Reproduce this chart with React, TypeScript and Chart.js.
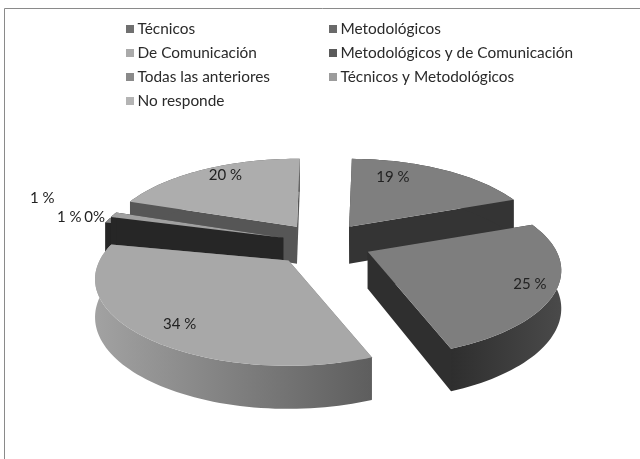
import React, { useEffect, useRef } from "react";
import { Chart, registerables } from "chart.js";

Chart.register(...registerables);

const categories = [
  "Técnicos",
  "Metodológicos",
  "De Comunicación",
  "Metodológicos y de Comunicación",
  "Todas las anteriores",
  "Técnicos y Metodológicos",
  "No responde",
];
const shares = [19, 25, 34, 1, 1, 0, 20];
const shareLabels = ["19 %", "25 %", "34 %", "1 %", "1 %", "0%", "20 %"];

const topColors = ["#7f7f7f", "#7e7e7e", "#a8a8a8", "#8a8a8a", "#a0a0a0", "#b0b0b0", "#adadad"];
const sideColors = ["#343434", "#2f2f2f", "#6e6e6e", "#262626", "#262626", "#262626", "#565656"];
const rimFrom = ["#343434", "#2e2e2e", "#a2a2a2", "#262626", "#262626", "#262626", "#565656"];
const rimTo = ["#343434", "#4a4a4a", "#5e5e5e", "#262626", "#262626", "#262626", "#565656"];
const swatchColors = ["#707070", "#6a6a6a", "#aaaaaa", "#5a5a5a", "#8a8a8a", "#9c9c9c", "#b4b4b4"];
const explosion = [0.24, 0.26, 0.28, 0.22, 0.22, 0.22, 0.24];
const paintOrder = [6, 0, 3, 4, 5, 1, 2];

// Ground plane of the pie as seen in perspective.
const view = { cx: 323, cy: 243, rx: 189, ry: 82.6, tilt: 0.215, depth: 37 };

function project(sliceMid: number, blast: number, angle: number, radius: number) {
  const u = Math.sin(angle) * radius;
  const v = -Math.cos(angle) * radius;
  const s = 1 / (1 - view.tilt * v);
  const ox = view.cx + view.rx * blast * Math.sin(sliceMid);
  const oy = view.cy - view.ry * blast * Math.cos(sliceMid);
  return { x: ox + view.rx * u * s, y: oy + view.ry * v * s, s };
}

const pie3d = {
  id: "pie3d",
  beforeDatasetDraw(chart: any) {
    const ctx: CanvasRenderingContext2D = chart.ctx;
    const arcs = chart.getDatasetMeta(0).data;

    ctx.save();
    for (const i of paintOrder) {
      const arc = arcs[i];
      const a0 = arc.startAngle + Math.PI / 2;
      const a1 = arc.endAngle + Math.PI / 2;
      const mid = (a0 + a1) / 2;
      if (a1 - a0 < 1e-4) continue;
      const blast = explosion[i];
      const rim: { x: number; y: number; s: number }[] = [];
      const steps = Math.max(4, Math.ceil((a1 - a0) / 0.03));
      for (let k = 0; k <= steps; k++) {
        rim.push(project(mid, blast, a0 + ((a1 - a0) * k) / steps, 1));
      }
      const apex = project(mid, blast, 0, 0);
      const drop = (p: { s: number }) => view.depth * (1 + (p.s - 1) * 0.6);

      const wall = (pts: { x: number; y: number; s: number }[], fill: string | CanvasGradient) => {
        ctx.beginPath();
        pts.forEach((p, n) => (n ? ctx.lineTo(p.x, p.y) : ctx.moveTo(p.x, p.y)));
        for (let n = pts.length - 1; n >= 0; n--) ctx.lineTo(pts[n].x, pts[n].y + drop(pts[n]));
        ctx.closePath();
        ctx.fillStyle = fill;
        ctx.fill();
      };

      wall([apex, rim[0]], sideColors[i]);
      wall([apex, rim[rim.length - 1]], sideColors[i]);

      // The outer wall picks up light along its length.
      const xs = rim.map((p) => p.x);
      const shade = ctx.createLinearGradient(Math.min(...xs), 0, Math.max(...xs), 0);
      const forward = rim[0].x > rim[rim.length - 1].x;
      shade.addColorStop(0, forward ? rimFrom[i] : rimTo[i]);
      shade.addColorStop(1, forward ? rimTo[i] : rimFrom[i]);
      wall(rim, i === 1 ? shade : i === 2 ? shade : sideColors[i]);

      ctx.beginPath();
      ctx.moveTo(apex.x, apex.y);
      rim.forEach((p) => ctx.lineTo(p.x, p.y));
      ctx.closePath();
      ctx.fillStyle = topColors[i];
      ctx.fill();
    }
    ctx.restore();
    return false;
  },
  afterDatasetsDraw(chart: any) {
    const ctx: CanvasRenderingContext2D = chart.ctx;
    const arcs = chart.getDatasetMeta(0).data;
    ctx.save();
    ctx.fillStyle = "#222222";
    ctx.font = "15px Lato";
    ctx.textAlign = "center";
    ctx.textBaseline = "middle";
    const reach = [0.78, 0.83, 0.6, 1.32, 1.16, 1.0, 0.82];
    const nudge = [
      [-31, -3],
      [8, 2],
      [-27, 22],
      [-13, -17],
      [-19, 6],
      [-22, 5],
      [6, -3],
    ];
    arcs.forEach((arc: any, i: number) => {
      const a0 = arc.startAngle + Math.PI / 2;
      const a1 = arc.endAngle + Math.PI / 2;
      const mid = (a0 + a1) / 2;
      const p = project(mid, explosion[i], mid, reach[i]);
      ctx.fillText(shareLabels[i], p.x + nudge[i][0], p.y + nudge[i][1]);
    });

    // Two-column key above the pie.
    const rows = [29, 53, 77, 101];
    const cols = [126, 329];
    ctx.textAlign = "left";
    ctx.font = "15.4px Lato";
    categories.forEach((name, i) => {
      const col = i === 6 ? 0 : i % 2;
      const row = Math.floor(i / 2);
      ctx.fillStyle = swatchColors[i];
      ctx.fillRect(cols[col], rows[row] - 4, 8, 8);
      ctx.fillStyle = "#2a2a2a";
      ctx.fillText(name, cols[col] + 11.5, rows[row]);
    });
    ctx.restore();
  },
};

const framePlugin = {
  id: "frame",
  beforeDraw(chart: any) {
    const ctx: CanvasRenderingContext2D = chart.ctx;
    ctx.save();
    ctx.fillStyle = "#ffffff";
    ctx.fillRect(0, 0, chart.width, chart.height);
    ctx.strokeStyle = "#8a8a8a";
    ctx.lineWidth = 1;
    ctx.beginPath();
    ctx.moveTo(4.5, chart.height);
    ctx.lineTo(4.5, 8.5);
    ctx.lineTo(chart.width, 8.5);
    ctx.stroke();
    ctx.restore();
  },
};

export default function App() {
  const ref = useRef<HTMLCanvasElement>(null);
  useEffect(() => {
    document.body.style.margin = "0";
    const chart = new Chart(ref.current!, {
      type: "pie",
      data: {
        labels: categories,
        datasets: [{ data: shares, backgroundColor: topColors, borderWidth: 0 }],
      },
      options: {
        responsive: false,
        animation: false,
        rotation: 1,
        plugins: { legend: { display: false }, tooltip: { enabled: false } },
      },
      plugins: [framePlugin, pie3d],
    });
    return () => chart.destroy();
  }, []);
  return <canvas ref={ref} width={640} height={459} style={{ display: "block" }} />;
}
